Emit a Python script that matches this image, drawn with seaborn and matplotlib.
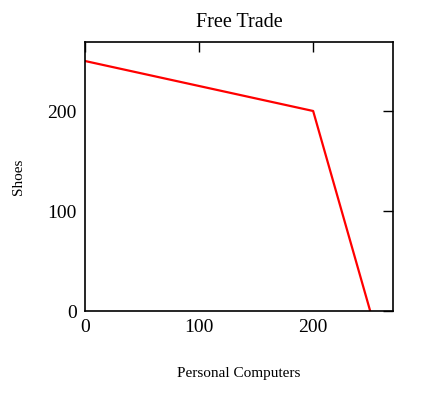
import matplotlib
matplotlib.use("Agg")
import matplotlib.pyplot as plt
import seaborn as sns
import pandas as pd

computers = [0, 200, 250]
shoes = [250, 200, 0]
x_ticks = [0, 100, 200]
y_ticks = [0, 100, 200]

sns.set_style("white")
plt.rcParams['font.family'] = ['Liberation Serif', 'DejaVu Serif']
plt.rcParams['text.color'] = 'black'
plt.rcParams['axes.labelcolor'] = 'black'

fig = plt.figure(figsize=(4.21, 3.93), dpi=100)
ax = fig.add_axes([85/421, 82/393, 308/421, 269/393])

df = pd.DataFrame({"Personal Computers": computers, "Shoes": shoes})
sns.lineplot(data=df, x="Personal Computers", y="Shoes", color="#ff0000",
             linewidth=1.6, sort=False, ax=ax)

ax.set_xlim(0, 270)
ax.set_ylim(0, 269)
ax.set_xticks(x_ticks)
ax.set_yticks(y_ticks)
ax.tick_params(direction="in", length=7.5, width=1, colors="black",
               top=True, right=True, labelsize=14, pad=6)
for s in ax.spines.values():
    s.set_color("black")
    s.set_linewidth(1.2)

ax.set_title("Free Trade", fontsize=14.5, pad=11, color="black")
ax.set_xlabel("Personal Computers", fontsize=11, labelpad=22)
ax.set_ylabel("Shoes", fontsize=11, labelpad=16)

fig.savefig("out.png", dpi=100)
